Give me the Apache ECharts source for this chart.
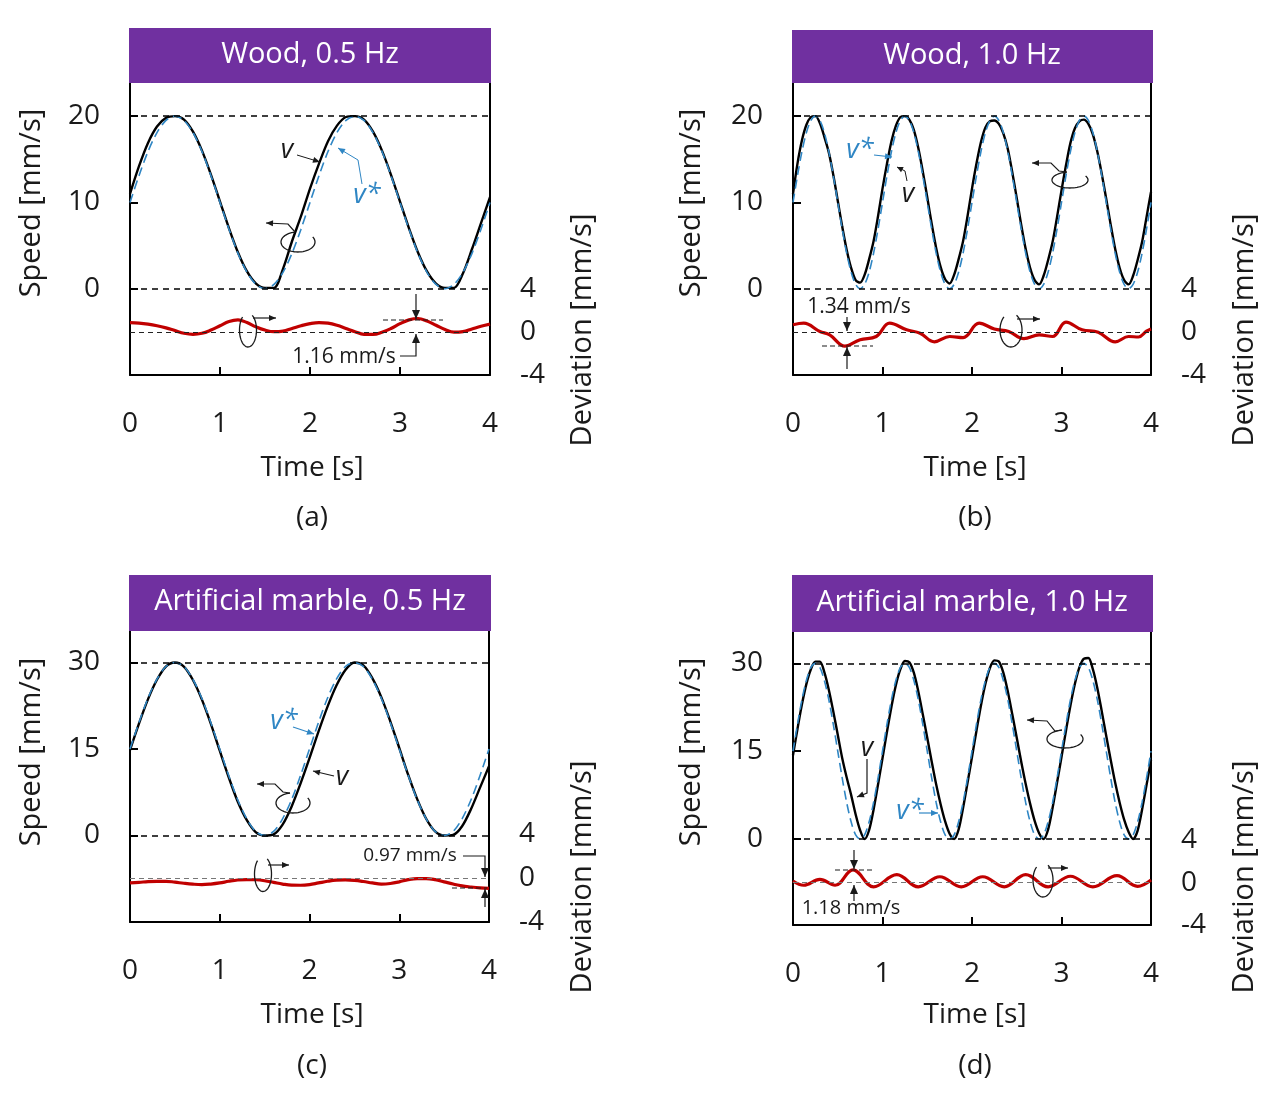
<!DOCTYPE html>
<html><head><meta charset="utf-8">
<script src="https://cdn.jsdelivr.net/npm/echarts@6/dist/echarts.min.js"></script>
<style>html,body{margin:0;padding:0;background:#fff}#c{width:1280px;height:1102px}</style>
</head><body><div id="c"></div>
<script>
// ---------- DATA ----------
const titles = ['Wood, 0.5 Hz', 'Wood, 1.0 Hz', 'Artificial marble, 0.5 Hz', 'Artificial marble, 1.0 Hz'];
const captions = ['(a)', '(b)', '(c)', '(d)'];
const timeTicks = [0, 1, 2, 3, 4];
const speedTicksWood = [0, 10, 20];
const speedTicksMarble = [0, 15, 30];
const devTicks = [-4, 0, 4];

const T10 = [0,0.1,0.2,0.3,0.4,0.5,0.6,0.7,0.8,0.9,1,1.1,1.2,1.3,1.4,1.5,1.6,1.7,1.8,1.9,2,2.1,2.2,2.3,2.4,2.5,2.6,2.7,2.8,2.9,3,3.1,3.2,3.3,3.4,3.5,3.6,3.7,3.8,3.9,4];
const T05 = [0,0.05,0.1,0.15,0.2,0.25,0.3,0.35,0.4,0.45,0.5,0.55,0.6,0.65,0.7,0.75,0.8,0.85,0.9,0.95,1,1.05,1.1,1.15,1.2,1.25,1.3,1.35,1.4,1.45,1.5,1.55,1.6,1.65,1.7,1.75,1.8,1.85,1.9,1.95,2,2.05,2.1,2.15,2.2,2.25,2.3,2.35,2.4,2.45,2.5,2.55,2.6,2.65,2.7,2.75,2.8,2.85,2.9,2.95,3,3.05,3.1,3.15,3.2,3.25,3.3,3.35,3.4,3.45,3.5,3.55,3.6,3.65,3.7,3.75,3.8,3.85,3.9,3.95,4];

// (a) Wood 0.5 Hz
const vA  = [11.0,14.2,16.9,18.8,19.8,20.0,19.6,18.2,16.0,13.2,10.1,7.0,4.2,2.0,0.6,0.1,0.1,2.3,5.5,8.4,11.6,14.5,17.1,18.9,19.9,20.0,19.6,18.2,16.0,13.2,10.1,7.0,4.2,2.0,0.6,0.1,0.1,1.8,4.6,7.6,10.6];
const vsA = [10,13.1,15.9,18.1,19.5,20,19.5,18.1,15.9,13.1,10,6.9,4.1,1.9,0.5,0,0.5,1.9,4.1,6.9,10,13.1,15.9,18.1,19.5,20,19.5,18.1,15.9,13.1,10,6.9,4.1,1.9,0.5,0,0.5,1.9,4.1,6.9,10];
const devA = [0.9,0.85,0.75,0.6,0.4,0.15,-0.1,-0.2,-0.1,0.2,0.6,1.0,1.15,0.9,0.5,0.2,0.05,0.1,0.35,0.6,0.8,0.9,0.85,0.65,0.35,0.05,-0.2,-0.2,0.0,0.35,0.8,1.15,1.28,1.05,0.65,0.25,0.0,0.05,0.3,0.55,0.75];

// (b) Wood 1.0 Hz
const vB  = [11.0,14.5,17.2,19.0,19.9,20.0,19.2,17.6,15.8,13.2,10.2,7.2,4.5,2.4,1.0,0.7,1.6,3.4,5.5,8.4,
             11.6,14.5,17.1,18.9,19.9,20.0,19.6,18.4,16.3,13.6,10.6,7.5,4.7,2.5,1.1,0.6,1.6,3.4,5.5,8.4,
             11.6,14.5,17.0,18.7,19.4,19.5,19.1,18.0,16.2,13.5,10.5,7.4,4.6,2.4,1.0,0.5,1.5,3.3,5.4,8.3,
             11.4,14.3,16.9,18.6,19.4,19.6,19.1,17.9,15.9,13.3,10.4,7.4,4.6,2.4,1.0,0.5,1.5,3.3,5.4,8.3,11.2];
const vsB = [10,13.1,15.9,18.1,19.5,20,19.5,18.1,15.9,13.1,10,6.9,4.1,1.9,0.5,0,0.5,1.9,4.1,6.9,
             10,13.1,15.9,18.1,19.5,20,19.5,18.1,15.9,13.1,10,6.9,4.1,1.9,0.5,0,0.5,1.9,4.1,6.9,
             10,13.1,15.9,18.1,19.5,20,19.5,18.1,15.9,13.1,10,6.9,4.1,1.9,0.5,0,0.5,1.9,4.1,6.9,
             10,13.1,15.9,18.1,19.5,20,19.5,18.1,15.9,13.1,10,6.9,4.1,1.9,0.5,0,0.5,1.9,4.1,6.9,10];
const devTB = [0,0.12,0.3,0.41,0.58,0.75,0.93,1.08,1.27,1.42,1.58,1.75,1.9,2.08,2.25,2.41,2.58,2.75,2.9,3.05,3.23,3.41,3.6,3.75,3.86,3.95,4];
const devB  = [0.7,0.84,0.07,-0.25,-1.3,-0.7,-0.4,0.84,0.22,-0.1,-0.9,-0.4,-0.5,0.84,0.3,0.07,-0.6,-0.25,-0.4,0.95,0.22,0.0,-0.9,-0.4,-0.45,0.1,0.3];

// (c) Artificial marble 0.5 Hz
const vC  = [14.8,19.4,23.6,27.0,29.3,30.0,29.3,27.0,23.6,19.4,14.7,10.1,5.9,2.7,0.6,0.0,0.2,1.9,5.0,9.0,13.4,18.0,22.3,26.0,28.7,30.0,29.5,27.3,24.0,19.8,15.2,10.5,6.3,2.9,0.7,0.0,0.1,1.6,4.6,8.3,12.0];
const vsC = [15,19.6,23.8,27.1,29.3,30,29.3,27.1,23.8,19.6,15,10.4,6.2,2.9,0.7,0,0.7,2.9,6.2,10.4,15,19.6,23.8,27.1,29.3,30,29.3,27.1,23.8,19.6,15,10.4,6.2,2.9,0.7,0,0.7,2.9,6.2,10.4,15];
const devC = [-0.45,-0.4,-0.33,-0.3,-0.3,-0.38,-0.48,-0.56,-0.6,-0.55,-0.45,-0.3,-0.18,-0.14,-0.16,-0.25,-0.4,-0.55,-0.65,-0.66,-0.6,-0.45,-0.3,-0.2,-0.18,-0.22,-0.32,-0.45,-0.55,-0.5,-0.35,-0.15,-0.05,-0.05,-0.15,-0.35,-0.55,-0.72,-0.82,-0.9,-0.95];

// (d) Artificial marble 1.0 Hz
const vD  = [14.3,18.8,23.0,26.5,29.0,30.3,30.3,28.5,25.5,21.8,17.8,13.8,10.5,7.5,4.2,1.5,0.0,1.5,5.0,9.3,
             13.8,18.3,22.6,26.3,29.0,30.4,30.2,28.4,25.2,21.3,17.3,13.2,9.3,5.9,3.0,0.9,0.0,1.6,5.3,9.6,
             14.0,18.5,22.8,26.5,29.2,30.5,30.3,28.4,25.2,21.3,17.3,13.2,9.4,6.0,3.1,1.0,0.0,1.6,5.3,9.6,
             14.0,18.5,22.8,26.5,29.3,30.8,30.9,29.0,25.8,21.8,17.6,13.5,9.6,6.2,3.3,1.2,0.0,1.4,5.0,9.2,13.5];
const vsD = [15,19.6,23.8,27.1,29.3,30,29.3,27.1,23.8,19.6,15,10.4,6.2,2.9,0.7,0,0.7,2.9,6.2,10.4,
             15,19.6,23.8,27.1,29.3,30,29.3,27.1,23.8,19.6,15,10.4,6.2,2.9,0.7,0,0.7,2.9,6.2,10.4,
             15,19.6,23.8,27.1,29.3,30,29.3,27.1,23.8,19.6,15,10.4,6.2,2.9,0.7,0,0.7,2.9,6.2,10.4,
             15,19.6,23.8,27.1,29.3,30,29.3,27.1,23.8,19.6,15,10.4,6.2,2.9,0.7,0,0.7,2.9,6.2,10.4,15];
const devTD = [0,0.12,0.3,0.47,0.67,0.9,1.16,1.4,1.64,1.88,2.12,2.36,2.6,2.85,3.1,3.35,3.62,3.85,4];
const devD  = [0.15,-0.25,0.3,-0.25,1.2,-0.4,0.75,-0.4,0.55,-0.4,0.55,-0.4,0.75,-0.4,0.6,-0.4,0.65,-0.35,0.25];

// ---------- LAYOUT / STYLE ----------
const FONT = "'Open Sans', 'Noto Sans', sans-serif";
const INK = '#1a1a1a', BLUE = '#2f86c4', RED = '#c00000', PURPLE = '#7030a0';

const panels = [
  {grid:{left:130, top:83, width:360, height:292}, sMin:-10, sMax:23.84, sTicks:speedTicksWood, sTop:20,
   dMin:-4, dMax:23.29, t:T10, v:vA, vs:vsA, dt:T10, d:devA, d0:'#222'},
  {grid:{left:793, top:83, width:358, height:292}, sMin:-10, sMax:23.84, sTicks:speedTicksWood, sTop:20,
   dMin:-4, dMax:23.29, t:T05, v:vB, vs:vsB, dt:devTB, d:devB, d0:'#222'},
  {grid:{left:130, top:631, width:359, height:291}, sMin:-15, sMax:35.46, sTicks:speedTicksMarble, sTop:30,
   dMin:-4, dMax:22.45, t:T10, v:vC, vs:vsC, dt:T10, d:devC, d0:'#777'},
  {grid:{left:793, top:632, width:358, height:293}, sMin:-14.68, sMax:35.35, sTicks:speedTicksMarble, sTop:30,
   dMin:-4, dMax:23.64, t:T05, v:vD, vs:vsD, dt:devTD, d:devD, d0:'#777'}
];

function pairs(t, v) { return t.map((x, i) => [x, v[i]]); }
const labelStyle = {color: INK, fontSize: 28, fontFamily: FONT};

const grids = [], xAxes = [], yAxes = [], series = [];
panels.forEach((p, i) => {
  grids.push(Object.assign({}, p.grid));
  xAxes.push({type:'value', gridIndex:i, min:0, max:4, interval:1,
    axisLine:{onZero:false, lineStyle:{color:'#000', width:2}},
    axisTick:{inside:true, length:8, lineStyle:{color:'#000', width:2}, customValues:[1,2,3]},
    axisLabel:Object.assign({margin:35, customValues:timeTicks}, labelStyle),
    splitLine:{show:false}});
  yAxes.push({type:'value', gridIndex:i, position:'left', min:p.sMin, max:p.sMax,
    axisLine:{show:true, onZero:false, lineStyle:{color:'#000', width:2}},
    axisTick:{show:true, inside:true, length:8, lineStyle:{color:'#000', width:2}, customValues:p.sTicks},
    axisLabel:Object.assign({margin:30, customValues:p.sTicks}, labelStyle),
    splitLine:{show:false}});
  yAxes.push({type:'value', gridIndex:i, position:'right', min:p.dMin, max:p.dMax,
    axisLine:{show:true, onZero:false, lineStyle:{color:'#000', width:2}},
    axisTick:{show:false},
    axisLabel:Object.assign({margin:30, customValues:devTicks}, labelStyle),
    splitLine:{show:false}});
  series.push({type:'line', xAxisIndex:i, yAxisIndex:2*i, data:pairs(p.t, p.v), showSymbol:false, smooth:0.3,
    lineStyle:{color:'#000', width:2.4}, z:3,
    markLine:{silent:true, symbol:['none','none'], label:{show:false},
      lineStyle:{color:'#000', width:1.5, type:[6,5]}, data:[{yAxis:0},{yAxis:p.sTop}]}});
  series.push({type:'line', xAxisIndex:i, yAxisIndex:2*i, data:pairs(p.t, p.vs), showSymbol:false, smooth:0.3,
    lineStyle:{color:BLUE, width:1.6, type:[9,5]}, z:4});
  series.push({type:'line', xAxisIndex:i, yAxisIndex:2*i+1, data:pairs(p.dt, p.d), showSymbol:false, smooth:0.4,
    lineStyle:{color:RED, width:3.2}, z:4,
    markLine:{silent:true, symbol:['none','none'], label:{show:false},
      lineStyle:{color:p.d0, width:1.1, type:[5,4]}, data:[{yAxis:0}]}});
});

// ---------- graphic helpers (titles, names, annotations) ----------
const G = [];
function text(x, y, s, o) {
  o = o || {};
  G.push({type:'text', x:x, y:y, rotation:o.rot || 0, z:100,
    style:{text:s, x:0, y:0, fill:o.fill || INK, fontSize:o.size || 28, fontFamily:FONT,
      fontStyle:o.italic ? 'italic' : 'normal', align:'center', verticalAlign:'middle'}});
}
function poly(pts, color, w, dash) {
  G.push({type:'polyline', z:100, shape:{points:pts},
    style:{stroke:color || INK, lineWidth:w || 1.3, fill:null, lineDash:dash || null}});
}
function head(p, q, color, L, W) {
  L = L || 8; W = W || 3.5;
  const dx = q[0]-p[0], dy = q[1]-p[1], n = Math.hypot(dx, dy), ux = dx/n, uy = dy/n;
  const bx = q[0]-ux*L, by = q[1]-uy*L;
  G.push({type:'polygon', z:101, shape:{points:[q, [bx-uy*W, by+ux*W], [bx+uy*W, by-ux*W]]},
    style:{fill:color || INK}});
}
function arrow(pts, color, w, L, W) {
  poly(pts, color, w);
  head(pts[pts.length-2], pts[pts.length-1], color, L, W);
}
function loop(cx, cy, rx, ry, a0, a1) {
  const pts = [];
  for (let k = 0; k <= 48; k++) {
    const a = (a0 + (a1-a0)*k/48) * Math.PI / 180;
    pts.push([cx + rx*Math.cos(a), cy + ry*Math.sin(a)]);
  }
  poly(pts, INK, 1.3);
}

// title bars
const bars = [[129,28,362,55,310,55],[792,30,361,53,972,56],[129,575,362,56,310,602],[792,575,361,57,972,603]];
bars.forEach((b, i) => {
  G.push({type:'rect', z:50, shape:{x:b[0], y:b[1], width:b[2], height:b[3]}, style:{fill:PURPLE}});
  text(b[4], b[5], titles[i], {fill:'#fff', size:29});
});
// axis names & captions
const nameSpots = [[32,203,583,330,312,468,312,518],[692,203,1245,330,975,468,975,518],
                   [32,752,583,877,312,1015,312,1066],[692,752,1245,877,975,1015,975,1066]];
nameSpots.forEach((s, i) => {
  text(s[0], s[1], 'Speed [mm/s]', {rot:Math.PI/2, size:29});
  text(s[2], s[3], 'Deviation [mm/s]', {rot:Math.PI/2, size:29});
  text(s[4], s[5], 'Time [s]', {size:28});
  text(s[6], s[7], captions[i], {size:28});
});

// (a) annotations
text(287, 150, 'v', {italic:true, size:27});
arrow([[297,155],[320,162]], INK, 1, 7, 3);
text(367, 195, 'v*', {italic:true, size:27, fill:BLUE});
arrow([[362,184],[358,160],[338,148]], BLUE, 1, 7, 3);
loop(298, 242, 17, 10, 260, -30); arrow([[295,232],[288,224],[266,223]], INK, 1.2, 7, 3);
loop(248, 330, 8.5, 17, -60, 230); arrow([[253,318],[276,318]], INK, 1.2, 7, 3);
poly([[383,320],[443,320]], INK, 1.2, [5,3]);
arrow([[416,294],[416,319]], INK, 1.2, 9, 4);
arrow([[400,356],[416,356],[416,334]], INK, 1.2, 9, 4);
text(344, 357, '1.16 mm/s', {size:21});

// (b) annotations
text(860, 150, 'v*', {italic:true, size:27, fill:BLUE});
arrow([[874,155],[892,157]], BLUE, 1.2, 7, 3);
text(908, 194, 'v', {italic:true, size:27});
arrow([[907,181],[905,171],[897,167]], INK, 1, 6, 3);
loop(1070, 180, 18, 8, 260, -30); arrow([[1067,172],[1059,171],[1051,163],[1032,163]], INK, 1.2, 7, 3);
loop(1011, 330, 11, 17, -60, 230); arrow([[1017,319],[1040,319]], INK, 1.2, 7, 3);
poly([[822,346],[873,346]], INK, 1.2, [5,3]);
arrow([[847,317],[847,331]], INK, 1.2, 9, 4);
arrow([[847,369],[847,347]], INK, 1.2, 9, 4);
text(859, 307, '1.34 mm/s', {size:21});

// (c) annotations
text(284, 721, 'v*', {italic:true, size:27, fill:BLUE});
arrow([[293,727],[314,734]], BLUE, 1.2, 7, 3);
text(342, 777, 'v', {italic:true, size:27});
arrow([[334,776],[313,771]], INK, 1.2, 7, 3);
loop(293, 803, 17, 10, 260, -30); arrow([[290,793],[283,792],[275,784],[257,784]], INK, 1.2, 7, 3);
loop(263, 874, 8.5, 17.5, -60, 230); arrow([[268,865],[289,865]], INK, 1.2, 7, 3);
poly([[452,888],[487,888]], INK, 1.2, [5,3]);
arrow([[463,856],[485,856],[485,877]], INK, 1.2, 9, 4);
arrow([[485,907],[485,889]], INK, 1.2, 9, 4);
text(410, 856, '0.97 mm/s', {size:19});

// (d) annotations
text(867, 748, 'v', {italic:true, size:27});
arrow([[867,759],[867,793],[857,797]], INK, 1.2, 7, 3);
text(910, 811, 'v*', {italic:true, size:27, fill:BLUE});
arrow([[919,813],[938,813]], BLUE, 1.2, 7, 3);
loop(1065, 739, 18, 9, 260, -30); arrow([[1062,730],[1055,731],[1047,721],[1027,720]], INK, 1.2, 7, 3);
loop(1043, 880, 10, 17, -60, 230); arrow([[1048,868],[1068,868]], INK, 1.2, 7, 3);
poly([[835,870],[872,870]], INK, 1.2, [5,3]);
arrow([[854,850],[854,869]], INK, 1.2, 9, 4);
arrow([[854,901],[854,885]], INK, 1.2, 9, 4);
text(851, 908, '1.18 mm/s', {size:20});

const chart = echarts.init(document.getElementById('c'), null, {renderer:'canvas'});
chart.setOption({
  animation:false,
  backgroundColor:'#fff',
  grid:grids, xAxis:xAxes, yAxis:yAxes, series:series,
  graphic:{elements:G}
});
</script></body></html>
